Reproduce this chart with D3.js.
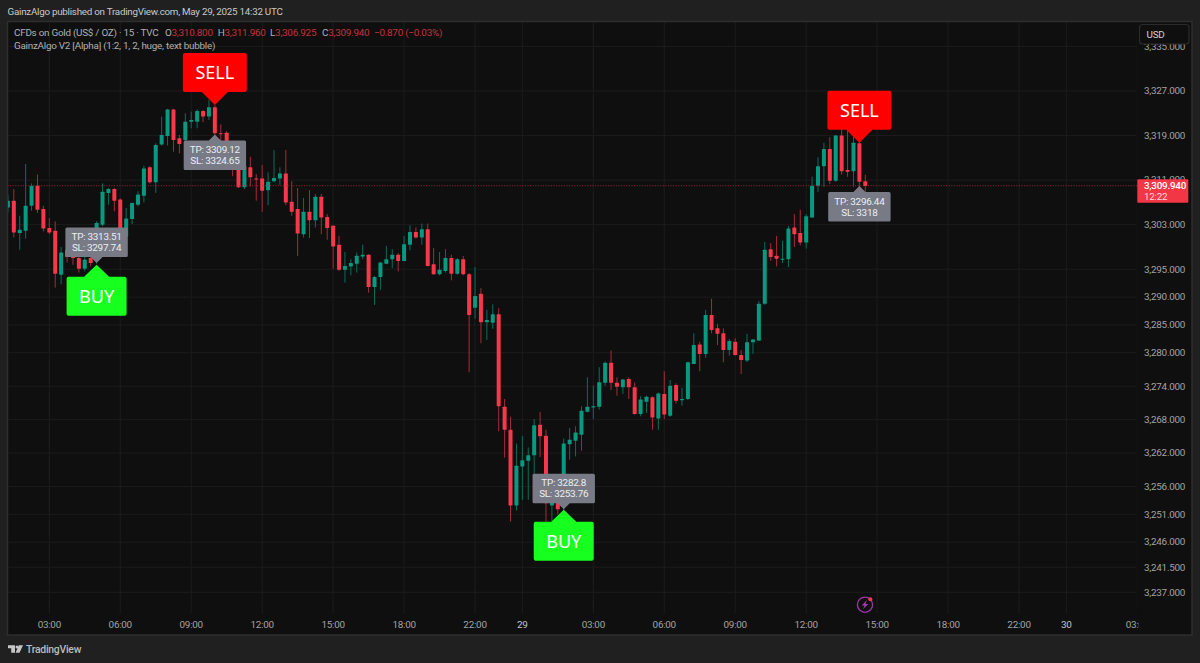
<!DOCTYPE html>
<html><head><meta charset="utf-8">
<script src="https://cdn.jsdelivr.net/npm/d3@7"></script>
<style>html,body{margin:0;padding:0;background:#202020;overflow:hidden}svg{display:block}text{font-family:Roboto,"Noto Sans",sans-serif;letter-spacing:-0.25px}text.big{font-family:"Noto Sans",sans-serif;letter-spacing:0}</style>
</head><body><svg id="c" width="1200" height="663"></svg>
<script>
const open_ = [3306.1,3307.3,3301.5,3301.9,3306.4,3310.0,3305.8,3302.4,3301.9,3294.0,3298.5,3298.0,3297.0,3295.1,3297.0,3296.5,3303.0,3308.7,3309.4,3307.5,3300.9,3304.0,3306.6,3308.2,3313.3,3310.6,3317.4,3318.9,3323.7,3318.5,3318.2,3321.5,3321.5,3323.4,3322.4,3324.1,3319.4,3319.5,3316.5,3314.2,3309.7,3313.3,3311.3,3311.3,3309.2,3310.8,3311.3,3312.2,3307.1,3305.8,3301.3,3305.3,3303.8,3308.0,3304.4,3302.8,3299.4,3294.9,3295.5,3296.0,3297.3,3297.6,3291.8,3293.6,3296.0,3296.8,3297.6,3296.5,3299.4,3301.7,3300.7,3302.2,3295.9,3294.1,3294.7,3297.0,3294.2,3296.8,3294.1,3288.1,3290.6,3285.5,3285.4,3286.9,3270.3,3266.2,3252.6,3259.6,3260.6,3261.6,3267.1,3265.1,3252.6,3254.5,3252.5,3263.6,3264.2,3265.3,3269.4,3270.2,3270.3,3274.6,3278.2,3274.6,3273.8,3275.3,3273.8,3269.0,3271.2,3272.0,3268.2,3272.6,3268.7,3274.2,3271.5,3271.7,3278.0,3281.5,3279.8,3286.8,3284.4,3283.5,3280.5,3282.0,3279.6,3278.6,3281.9,3282.2,3288.8,3298.6,3297.4,3296.8,3296.8,3302.5,3301.5,3299.8,3304.3,3310.0,3313.5,3316.6,3310.9,3319.0,3312.8,3312.6,3317.6,3310.8];
const high = [3308.3,3309.4,3304.6,3313.9,3310.4,3312.0,3306.4,3304.2,3303.6,3299.0,3300.0,3299.0,3298.5,3297.5,3298.0,3303.6,3310.4,3309.6,3309.6,3307.7,3306.0,3307.0,3309.0,3313.6,3313.5,3317.6,3322.4,3323.8,3323.8,3319.1,3323.0,3323.3,3323.7,3323.6,3325.4,3324.5,3321.0,3319.8,3317.0,3315.0,3315.0,3315.2,3312.1,3313.7,3312.4,3316.4,3313.3,3316.4,3310.8,3309.6,3307.8,3309.2,3308.5,3308.5,3304.9,3302.9,3301.0,3298.1,3296.8,3298.0,3299.4,3297.7,3293.8,3296.3,3299.2,3298.6,3297.9,3301.0,3302.9,3302.5,3303.2,3303.2,3298.8,3298.1,3298.6,3297.6,3297.0,3297.4,3294.3,3295.4,3291.6,3287.7,3288.7,3288.0,3271.7,3268.5,3263.7,3265.1,3263.0,3268.1,3269.4,3266.2,3257.5,3256.0,3264.6,3266.5,3266.8,3270.4,3275.6,3274.1,3277.4,3278.4,3280.4,3275.6,3275.3,3275.6,3274.7,3272.2,3272.3,3272.2,3272.9,3276.7,3275.1,3274.5,3273.7,3278.4,3283.5,3282.0,3287.7,3289.7,3285.2,3284.4,3282.5,3282.6,3280.5,3283.4,3282.5,3289.3,3299.9,3299.7,3301.0,3300.1,3302.8,3304.9,3305.7,3304.9,3311.6,3315.1,3317.7,3318.7,3319.1,3320.6,3320.6,3320.0,3318.2,3311.96];
const low = [3305.2,3300.7,3298.5,3300.5,3305.5,3305.1,3301.8,3301.3,3291.7,3292.3,3296.2,3295.8,3294.4,3294.6,3295.5,3296.0,3302.7,3306.6,3305.4,3300.5,3299.5,3303.1,3306.3,3307.0,3310.4,3308.7,3317.2,3317.2,3316.1,3315.8,3316.5,3320.3,3320.3,3321.4,3321.8,3319.1,3317.6,3315.5,3311.7,3309.6,3309.4,3309.9,3307.3,3305.3,3306.5,3310.6,3310.1,3306.5,3304.6,3297.4,3300.7,3300.6,3302.5,3301.3,3300.3,3295.1,3294.7,3292.6,3293.9,3294.4,3296.8,3290.8,3288.6,3291.3,3295.9,3295.2,3294.6,3296.4,3298.4,3300.5,3299.4,3295.5,3294.0,3293.9,3294.4,3293.0,3294.0,3293.9,3276.5,3286.1,3281.7,3282.3,3284.3,3265.9,3261.2,3249.7,3251.7,3253.6,3253.6,3257.8,3261.3,3249.7,3249.7,3251.0,3251.5,3260.8,3261.4,3262.4,3269.3,3268.1,3269.8,3274.1,3273.3,3272.3,3272.6,3271.7,3268.9,3268.6,3269.2,3266.2,3266.2,3268.1,3268.5,3270.9,3270.5,3271.5,3278.0,3276.7,3279.1,3283.5,3281.4,3278.3,3279.5,3279.5,3276.2,3278.3,3279.8,3282.1,3288.6,3296.5,3295.5,3296.1,3295.4,3299.0,3299.3,3298.7,3304.2,3308.9,3309.8,3310.3,3310.7,3312.0,3311.6,3309.8,3309.8,3306.925];
const close_ = [3307.3,3301.6,3302.1,3306.4,3310.0,3305.7,3302.3,3301.6,3294.2,3298.0,3297.2,3297.0,3295.1,3296.7,3296.1,3303.3,3308.9,3309.4,3307.3,3302.1,3304.1,3306.9,3308.4,3313.1,3310.6,3317.3,3319.1,3323.7,3318.2,3317.5,3321.5,3321.8,3323.4,3322.4,3324.1,3319.4,3319.3,3316.5,3313.5,3309.7,3313.5,3311.5,3311.2,3309.1,3310.7,3311.4,3312.2,3307.0,3305.3,3301.4,3305.3,3303.8,3308.0,3304.3,3302.4,3299.1,3294.9,3295.6,3296.1,3297.4,3297.6,3291.8,3293.6,3296.2,3296.8,3297.6,3296.5,3299.5,3301.7,3300.7,3302.2,3295.6,3294.1,3294.9,3297.0,3294.2,3296.8,3294.1,3286.8,3290.2,3285.5,3285.9,3286.9,3270.4,3266.2,3252.6,3259.7,3260.7,3261.6,3267.0,3265.0,3253.0,3256.0,3251.9,3263.7,3264.4,3265.7,3269.6,3270.3,3270.4,3274.7,3278.2,3274.6,3273.9,3275.2,3273.8,3269.0,3271.6,3272.1,3268.4,3272.7,3268.9,3274.1,3271.4,3271.7,3278.3,3281.4,3279.8,3286.8,3284.1,3283.4,3280.5,3282.1,3279.6,3278.7,3281.9,3282.4,3288.8,3298.5,3297.2,3296.9,3296.9,3302.3,3301.3,3299.8,3304.5,3310.0,3313.5,3316.6,3310.9,3319.0,3312.6,3312.5,3317.7,3310.7,3309.94];

const priceTicks = [3335,3327,3319,3311,3303,3295,3290,3285,3280,3274,3268,3262,3256,3251,3246,3241.5,3237];
const timeTickIndex = [7,19,31,43,55,67,79,87,99,111,123,135,147,159,171,179,191];
const timeTickLabels = ["03:00","06:00","09:00","12:00","15:00","18:00","22:00","29","03:00","06:00","09:00","12:00","15:00","18:00","22:00","30","03:00"];
const boldTimeTicks = ["29","30"];

const sellIndex = [35,144];
const sellPrice = [3324.5,3317.7];
const buyIndex = [15,94];
const buyPrice = [3295.8,3251.8];
const noteIndex = [15,35,94,144];
const notePrice = [3296.1,3319.2,3251.9,3309.94];
const noteDir = ["down","up","down","up"];
const noteText = [["TP: 3313.51","SL: 3297.74"],["TP: 3309.12","SL: 3324.65"],["TP: 3282.8","SL: 3253.76"],["TP: 3296.44","SL: 3318"]];
const lastPrice = 3309.94;

const bg="#202020", panel="#0f0f0f", border="#2e2e2e", grid="#1c1c1c", up="#089981", down="#f7374a", axisText="#a3a3a3", fs=9.9;
const svg = d3.select("#c");
const P = {l:7.5,r:1192,t:21.5,b:635,plotR:1137,plotB:613.5};
const x = d3.scaleLinear().domain([7,191]).range([49.3,1137.3]);
const y = d3.scaleLinear().domain([3327,3237]).range([91,592.3]);

svg.append("rect").attr("width",1200).attr("height",663).attr("fill",bg);
svg.append("rect").attr("x",P.l).attr("y",P.t).attr("width",P.r-P.l).attr("height",P.b-P.t).attr("fill",panel).attr("stroke",border).attr("stroke-width",1.5);
const defs = svg.append("defs");
defs.append("clipPath").attr("id","plot").append("rect").attr("x",P.l+.5).attr("y",P.t+.5).attr("width",P.plotR-P.l-.5).attr("height",P.plotB-P.t);
defs.append("clipPath").attr("id","timeclip").append("rect").attr("x",P.l).attr("y",P.plotB).attr("width",P.plotR-P.l+2).attr("height",P.b-P.plotB);

const plot = svg.append("g").attr("clip-path","url(#plot)");
plot.selectAll(".gh").data(priceTicks).join("line").attr("x1",P.l).attr("x2",P.plotR).attr("y1",d=>y(d)).attr("y2",d=>y(d)).attr("stroke",grid);
plot.selectAll(".gv").data(timeTickIndex).join("line").attr("x1",d=>x(d)).attr("x2",d=>x(d)).attr("y1",P.t).attr("y2",P.plotB).attr("stroke",grid);

const candles = plot.append("g");
open_.forEach((o,i)=>{
  const c = close_[i], col = c>=o?up:down;
  const wick = c>=o?"#066f5f":"#a82a38";
  candles.append("line").attr("x1",x(i)).attr("x2",x(i)).attr("y1",y(high[i])).attr("y2",y(low[i])).attr("stroke",wick).attr("stroke-width",1);
  const t=y(Math.max(o,c)), b=y(Math.min(o,c));
  candles.append("rect").attr("x",x(i)-2).attr("width",4).attr("y",t).attr("height",Math.max(b-t,1)).attr("fill",col).attr("rx",.4);
});

plot.append("line").attr("x1",P.l).attr("x2",P.plotR).attr("y1",y(lastPrice)-.3).attr("y2",y(lastPrice)-.3).attr("stroke","#a82c3a").attr("stroke-dasharray","1 1.6").attr("stroke-width",.9);

const bubble = svg.append("g");
function sellBubble(i,p){
  const tx=x(i), ty=y(p);
  bubble.append("path").attr("fill","#ff0000").attr("d",`M${tx-32} ${ty-50} Q${tx-32} ${ty-52} ${tx-30} ${ty-52} H${tx+30} Q${tx+32} ${ty-52} ${tx+32} ${ty-50} V${ty-15} Q${tx+32} ${ty-13} ${tx+30} ${ty-13} H${tx+13} L${tx} ${ty} L${tx-13} ${ty-13} H${tx-30} Q${tx-32} ${ty-13} ${tx-32} ${ty-15} Z`);
  bubble.append("text").attr("class","big").attr("x",tx).attr("y",ty-26).attr("text-anchor","middle").attr("fill","#fff").attr("font-size",18).text("SELL");
}
function buyBubble(i,p){
  const tx=x(i), ty=y(p);
  bubble.append("path").attr("fill","#17ff1e").attr("d",`M${tx-30} ${ty+14} Q${tx-30} ${ty+12} ${tx-28} ${ty+12} H${tx-12.5} L${tx} ${ty} L${tx+12.5} ${ty+12} H${tx+28} Q${tx+30} ${ty+12} ${tx+30} ${ty+14} V${ty+49} Q${tx+30} ${ty+51} ${tx+28} ${ty+51} H${tx-28} Q${tx-30} ${ty+51} ${tx-30} ${ty+49} Z`);
  bubble.append("text").attr("class","big").attr("x",tx).attr("y",ty+38.5).attr("text-anchor","middle").attr("fill","#fff").attr("font-size",18).text("BUY");
}
sellIndex.forEach((d,i)=>sellBubble(d,sellPrice[i]));
buyIndex.forEach((d,i)=>buyBubble(d,buyPrice[i]));
noteIndex.forEach((d,k)=>{
  const tx=x(d), ty=y(notePrice[k]), w=31.2, h=29.5, a=6, r=1.5;
  let top, path;
  if(noteDir[k]==="up"){
    top=ty+a;
    path=`M${tx-w+r} ${top} H${tx-6} L${tx} ${ty} L${tx+6} ${top} H${tx+w-r} Q${tx+w} ${top} ${tx+w} ${top+r} V${top+h-r} Q${tx+w} ${top+h} ${tx+w-r} ${top+h} H${tx-w+r} Q${tx-w} ${top+h} ${tx-w} ${top+h-r} V${top+r} Q${tx-w} ${top} ${tx-w+r} ${top} Z`;
  } else {
    top=ty-a-h;
    path=`M${tx-w+r} ${top} H${tx+w-r} Q${tx+w} ${top} ${tx+w} ${top+r} V${top+h-r} Q${tx+w} ${top+h} ${tx+w-r} ${top+h} H${tx+6} L${tx} ${ty} L${tx-6} ${top+h} H${tx-w+r} Q${tx-w} ${top+h} ${tx-w} ${top+h-r} V${top+r} Q${tx-w} ${top} ${tx-w+r} ${top} Z`;
  }
  bubble.append("path").attr("d",path).attr("fill","#787b86");
  noteText[k].forEach((t,j)=>bubble.append("text").attr("x",tx).attr("y",top+12.5+j*11).attr("text-anchor","middle").attr("fill","#eceef2").attr("font-size",fs).text(t));
});

const fmt = d3.format(",.3f");
svg.selectAll(".pt").data(priceTicks).join("text").attr("x",1144).attr("y",d=>y(d)+3.3).attr("fill",axisText).attr("font-size",fs).text(d=>fmt(d));

const tg = svg.append("g").attr("clip-path","url(#timeclip)");
tg.selectAll("text").data(timeTickIndex).join("text").attr("x",d=>x(d)).attr("y",628).attr("text-anchor","middle")
  .attr("fill",(d,i)=>boldTimeTicks.includes(timeTickLabels[i])?"#c4c4c4":axisText).attr("font-size",fs)
  .text((d,i)=>timeTickLabels[i]);

svg.append("rect").attr("x",1139.5).attr("y",24.5).attr("width",49.5).attr("height",19.5).attr("rx",3).attr("fill",panel).attr("stroke","#2b2b2b").attr("stroke-width",1.2);
svg.append("text").attr("x",1146.5).attr("y",37.8).attr("fill","#cfcfcf").attr("font-size",fs).text("USD");

svg.append("rect").attr("x",1137.3).attr("y",179.3).attr("width",51).attr("height",23.4).attr("rx",1).attr("fill","#f23645");
svg.append("text").attr("x",1144).attr("y",189).attr("fill","#fff").attr("font-size",fs).attr("font-weight",500).text(fmt(lastPrice));
svg.append("text").attr("x",1144).attr("y",199.7).attr("fill","#ffd9dc").attr("font-size",fs).text("12:22");

const hdr="#b0b0b0", red="#c92f3c";
svg.append("text").attr("x",7.5).attr("y",14.6).attr("fill","#c9c9c9").attr("font-size",9.8).text("GainzAlgo published on TradingView.com, May 29, 2025 14:32 UTC");
svg.append("text").attr("x",14).attr("y",35.5).attr("fill",hdr).attr("font-size",fs).text("CFDs on Gold (US$ / OZ) · 15 · TVC");
const legendKeys=["O","H","L","C"];
const legendValues=["3,310.800","3,311.960","3,306.925","3,309.940"];
const legendX=[165,217.7,270,322];
legendKeys.forEach((k,i)=>{
  const t=svg.append("text").attr("x",legendX[i]).attr("y",35.5).attr("font-size",fs);
  t.append("tspan").attr("fill",hdr).text(k);
  t.append("tspan").attr("fill",red).text(legendValues[i]);
});
svg.append("text").attr("x",374).attr("y",35.5).attr("fill",red).attr("font-size",fs).text("−0.870 (−0.03%)");
svg.append("text").attr("x",14).attr("y",48.6).attr("fill",hdr).attr("font-size",fs).text("GainzAlgo V2 [Alpha] (1:2, 1, 2, huge, text bubble)");

const ic = svg.append("g").attr("transform","translate(865,604.7)");
ic.append("circle").attr("r",7.6).attr("fill","none").attr("stroke","#9c35ab").attr("stroke-width",1.3);
ic.append("path").attr("d","M2 -4.6 L-3.2 0.8 H-0.4 L-2 4.6 L3.2 -0.8 H0.4 Z").attr("fill","#a83cb8");
ic.append("circle").attr("cx",5.3).attr("cy",-5.4).attr("r",2).attr("fill","#f7374a");

const lg = svg.append("g").attr("fill","#c6c6c6");
lg.append("path").attr("d","M8 645.3 H15 V652.8 H11.2 V648.3 H8 Z");
lg.append("circle").attr("cx",17).attr("cy",646.9).attr("r",1.5);
lg.append("path").attr("d","M18.8 645.3 H23 L19.5 652.8 H15.6 Z");
svg.append("text").attr("x",26).attr("y",653.2).attr("fill","#bcbcbc").attr("font-size",10.4).attr("font-weight",500).text("TradingView");
</script></body></html>
